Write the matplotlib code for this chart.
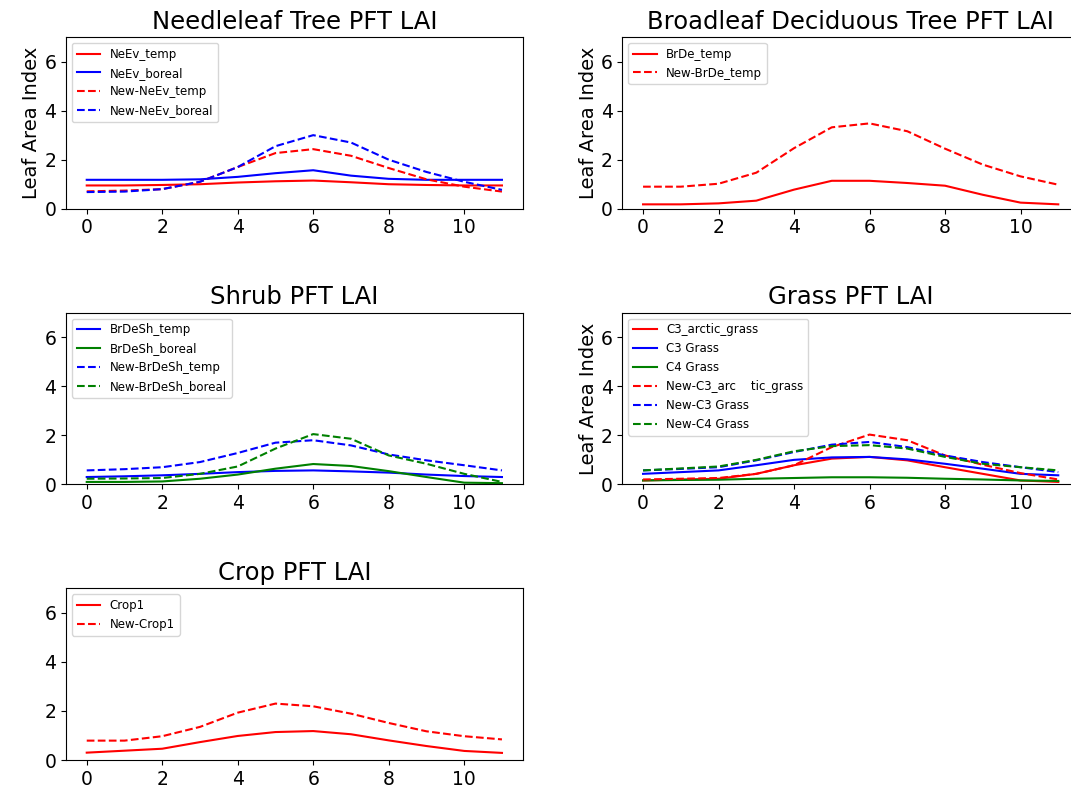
import matplotlib
matplotlib.use("Agg")
import matplotlib.pyplot as plt
import numpy as np

# months 0..11
months = np.arange(12)

# Needleleaf tree PFT
neev_temp = [0.95, 0.95, 0.97, 1.0, 1.07, 1.12, 1.15, 1.08, 1.0, 0.97, 0.95, 0.95]
neev_boreal = [1.18, 1.18, 1.18, 1.2, 1.3, 1.45, 1.57, 1.35, 1.22, 1.18, 1.18, 1.18]
new_neev_temp = [0.71, 0.74, 0.8, 1.1, 1.7, 2.27, 2.43, 2.16, 1.66, 1.2, 0.9, 0.7]
new_neev_boreal = [0.68, 0.7, 0.8, 1.1, 1.7, 2.55, 3.0, 2.7, 2.0, 1.5, 1.1, 0.77]

# Broadleaf deciduous tree PFT
brde_temp = [0.18, 0.18, 0.22, 0.33, 0.78, 1.14, 1.14, 1.05, 0.94, 0.57, 0.25, 0.18]
new_brde_temp = [0.9, 0.9, 1.02, 1.47, 2.47, 3.32, 3.48, 3.16, 2.45, 1.8, 1.32, 0.98]

# Shrub PFT
brdesh_temp = [0.3, 0.33, 0.37, 0.43, 0.5, 0.55, 0.57, 0.53, 0.48, 0.4, 0.34, 0.3]
brdesh_boreal = [0.1, 0.1, 0.12, 0.23, 0.4, 0.64, 0.83, 0.75, 0.54, 0.3, 0.07, 0.05]
new_brdesh_temp = [0.57, 0.62, 0.7, 0.91, 1.28, 1.7, 1.8, 1.59, 1.22, 0.98, 0.78, 0.57]
new_brdesh_boreal = [0.23, 0.24, 0.26, 0.43, 0.73, 1.46, 2.05, 1.86, 1.18, 0.84, 0.43, 0.1]

# Grass PFT
c3_arctic = [0.16, 0.2, 0.23, 0.43, 0.78, 1.05, 1.12, 0.98, 0.7, 0.43, 0.16, 0.1]
c3_grass = [0.43, 0.5, 0.57, 0.78, 1.0, 1.1, 1.12, 1.02, 0.84, 0.64, 0.43, 0.37]
c4_grass = [0.16, 0.18, 0.19, 0.23, 0.26, 0.29, 0.29, 0.27, 0.23, 0.2, 0.16, 0.14]
new_c3_arctic = [0.2, 0.23, 0.26, 0.43, 0.78, 1.52, 2.03, 1.8, 1.18, 0.8, 0.46, 0.2]
new_c3_grass = [0.57, 0.63, 0.7, 0.98, 1.32, 1.62, 1.73, 1.52, 1.18, 0.91, 0.7, 0.5]
new_c4_grass = [0.57, 0.65, 0.73, 1.0, 1.35, 1.56, 1.6, 1.46, 1.12, 0.84, 0.7, 0.57]

# Crop PFT
crop1 = [0.3, 0.38, 0.46, 0.73, 0.98, 1.14, 1.18, 1.05, 0.8, 0.57, 0.37, 0.29]
new_crop1 = [0.79, 0.79, 0.97, 1.35, 1.93, 2.3, 2.19, 1.89, 1.51, 1.17, 0.97, 0.84]

fig, axes = plt.subplots(3, 2, figsize=(10.71, 7.93), dpi=100)
plt.subplots_adjust(left=0.0616, right=1.0075, top=0.9533, bottom=0.0416,
                    wspace=0.218, hspace=0.605)

title_fs = 17.5
tick_fs = 13.5
ylab_fs = 14
leg_fs = 8.5


def style(ax, title, ylabel=True):
    ax.set_title(title, fontsize=title_fs)
    ax.set_ylim(0, 7)
    ax.tick_params(labelsize=tick_fs)
    if ylabel:
        ax.set_ylabel("Leaf Area Index", fontsize=ylab_fs, labelpad=2)
    ax.legend(loc="upper left", fontsize=leg_fs)


ax = axes[0, 0]
ax.plot(months, neev_temp, "r-", label="NeEv_temp")
ax.plot(months, neev_boreal, "b-", label="NeEv_boreal")
ax.plot(months, new_neev_temp, "r--", label="New-NeEv_temp")
ax.plot(months, new_neev_boreal, "b--", label="New-NeEv_boreal")
style(ax, "Needleleaf Tree PFT LAI")

ax = axes[0, 1]
ax.plot(months, brde_temp, "r-", label="BrDe_temp")
ax.plot(months, new_brde_temp, "r--", label="New-BrDe_temp")
style(ax, "Broadleaf Deciduous Tree PFT LAI")

ax = axes[1, 0]
ax.plot(months, brdesh_temp, "b-", label="BrDeSh_temp")
ax.plot(months, brdesh_boreal, "g-", label="BrDeSh_boreal")
ax.plot(months, new_brdesh_temp, "b--", label="New-BrDeSh_temp")
ax.plot(months, new_brdesh_boreal, "g--", label="New-BrDeSh_boreal")
style(ax, "Shrub PFT LAI", ylabel=False)

ax = axes[1, 1]
ax.plot(months, c3_arctic, "r-", label="C3_arctic_grass")
ax.plot(months, c3_grass, "b-", label="C3 Grass")
ax.plot(months, c4_grass, "g-", label="C4 Grass")
ax.plot(months, new_c3_arctic, "r--", label="New-C3_arc    tic_grass")
ax.plot(months, new_c3_grass, "b--", label="New-C3 Grass")
ax.plot(months, new_c4_grass, "g--", label="New-C4 Grass")
style(ax, "Grass PFT LAI")

ax = axes[2, 0]
ax.plot(months, crop1, "r-", label="Crop1")
ax.plot(months, new_crop1, "r--", label="New-Crop1")
style(ax, "Crop PFT LAI", ylabel=False)

axes[2, 1].axis("off")

plt.savefig("out.png", dpi=100)
